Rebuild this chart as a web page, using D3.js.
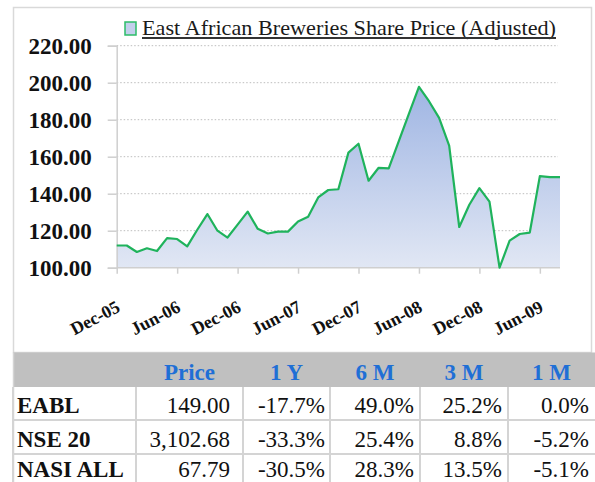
<!DOCTYPE html>
<html>
<head>
<meta charset="utf-8">
<script src="https://cdn.jsdelivr.net/npm/d3@7/dist/d3.min.js"></script>
<style>
  html, body { margin: 0; padding: 0; background: #fff; }
  svg { display: block; }
</style>
</head>
<body>
<div id="chart"></div>
<script>
// monthly closing price, Dec-05 .. Aug-09
const months = d3.timeMonth.range(new Date(2005, 11, 1), new Date(2009, 8, 1))
const prices = [
  112, 112, 108.5, 110.5, 109, 116, 115.5, 111.5, 120.5, 129, 120, 116.3,
  123.3, 130.3, 121, 118.5, 119.5, 119.5, 125, 127.6, 138, 142, 142.4, 162.2,
  167, 147, 154, 153.7, 168.4, 183.1, 197.8, 190, 181, 166, 122, 134,
  143, 135.7, 100, 114.6, 118.2, 119, 149.5, 149, 149
]
const yTicks = [100, 120, 140, 160, 180, 200, 220]
const xTickLabels = ['Dec-05', 'Jun-06', 'Dec-06', 'Jun-07', 'Dec-07', 'Jun-08', 'Dec-08', 'Jun-09']
const seriesName = 'East African Breweries Share Price (Adjusted)'

// summary table
const tableHeaders = ['Price', '1 Y', '6 M', '3 M', '1 M']
const tableRows = ['EABL', 'NSE 20', 'NASI ALL']
const lastPrice = [149.00, 3102.68, 67.79]
const chg1Y = [-17.7, -33.3, -30.5]
const chg6M = [49.0, 25.4, 28.3]
const chg3M = [25.2, 8.8, 13.5]
const chg1M = [0.0, -5.2, -5.1]

const W = 595, H = 482
const serif = '"Liberation Serif", "Times New Roman", serif'

const svg = d3.select('#chart').append('svg')
  .attr('width', W)
  .attr('height', H)

// chart frame
svg.append('rect')
  .attr('x', 13.5).attr('y', 7.5)
  .attr('width', 578).attr('height', 345)
  .attr('fill', '#fff')
  .attr('stroke', '#d9d9d9')
  .attr('stroke-width', 1.5)

const plot = { left: 116.7, right: 560, top: 45.7, bottom: 267.7 }

const x = d3.scalePoint()
  .domain(months)
  .range([plot.left, plot.right])

const y = d3.scaleLinear()
  .domain([100, 220])
  .range([plot.bottom, plot.top])

// gridlines
svg.append('g')
  .selectAll('line')
  .data(yTicks.filter(d => d > 100))
  .join('line')
  .attr('x1', plot.left)
  .attr('x2', plot.right - 2)
  .attr('y1', d => y(d))
  .attr('y2', d => y(d))
  .attr('stroke', '#bdbdbd')
  .attr('stroke-width', 1)
  .attr('stroke-dasharray', '1.5,2')

// area fill
const defs = svg.append('defs')
const grad = defs.append('linearGradient')
  .attr('id', 'areaFill')
  .attr('x1', 0).attr('y1', 0).attr('x2', 0).attr('y2', 1)
grad.append('stop').attr('offset', '0%').attr('stop-color', '#9fb5e3')
grad.append('stop').attr('offset', '100%').attr('stop-color', '#e1e7f4')

const area = d3.area()
  .x((d, i) => x(months[i]))
  .y0(y(100))
  .y1(d => y(d))

svg.append('path')
  .datum(prices)
  .attr('d', area)
  .attr('fill', 'url(#areaFill)')

// axes
const yAxis = svg.append('g')
  .attr('transform', `translate(${plot.left},0)`)
  .call(d3.axisLeft(y).tickValues(yTicks).tickFormat(d3.format('.2f')).tickSize(9).tickPadding(16))
yAxis.selectAll('path, line').attr('stroke', '#cfcfcf').attr('stroke-width', 1.5)
yAxis.selectAll('text')
  .attr('font-family', serif)
  .attr('font-size', 23)
  .attr('font-weight', 'bold')
  .attr('fill', '#111')

const xAxis = svg.append('g')
  .attr('transform', `translate(0,${plot.bottom})`)
  .call(d3.axisBottom(x)
    .tickValues(xTickLabels.map((d, i) => months[i * 6]))
    .tickFormat((d, i) => xTickLabels[i])
    .tickSize(6)
    .tickSizeOuter(0))
xAxis.select('.domain').attr('d', `M${plot.left},0H${plot.right}`)
xAxis.selectAll('path, line').attr('stroke', '#cfcfcf').attr('stroke-width', 1.5)
xAxis.selectAll('text')
  .attr('font-family', serif)
  .attr('font-size', 18)
  .attr('font-weight', 'bold')
  .attr('fill', '#111')
  .attr('text-anchor', 'end')
  .attr('y', 0)
  .attr('dy', 0)
  .attr('transform', 'translate(4,43) rotate(-28)')

// price line
const line = d3.line()
  .x((d, i) => x(months[i]))
  .y(d => y(d))

svg.append('path')
  .datum(prices)
  .attr('d', line)
  .attr('fill', 'none')
  .attr('stroke', '#1fb35c')
  .attr('stroke-width', 2.2)
  .attr('stroke-linejoin', 'round')

// legend
const legend = svg.append('g')
legend.append('rect')
  .attr('x', 125).attr('y', 22)
  .attr('width', 11).attr('height', 13)
  .attr('fill', '#c3cfec')
  .attr('stroke', '#2dbd68')
  .attr('stroke-width', 1.5)
legend.append('text')
  .attr('x', 142).attr('y', 35)
  .attr('font-family', serif)
  .attr('font-size', 21)
  .attr('fill', '#1a1a1a')
  .attr('textLength', 414)
  .attr('lengthAdjust', 'spacingAndGlyphs')
  .text(seriesName)
legend.append('line')
  .attr('x1', 142).attr('x2', 142 + 414)
  .attr('y1', 38).attr('y2', 38)
  .attr('stroke', '#333')
  .attr('stroke-width', 2)

// table
const colEdges = [13, 136, 243, 330, 420, 508, 595]
const rowEdges = [387, 420, 454, 488]
const headTop = 352.5
const fs = 23

svg.append('rect')
  .attr('x', 13).attr('y', headTop)
  .attr('width', W - 13).attr('height', rowEdges[0] - headTop)
  .attr('fill', '#c0c0c0')

svg.append('g')
  .selectAll('text')
  .data(tableHeaders)
  .join('text')
  .attr('x', (d, i) => (colEdges[i + 1] + colEdges[i + 2]) / 2)
  .attr('y', rowEdges[0] - 7)
  .attr('text-anchor', 'middle')
  .attr('font-family', serif)
  .attr('font-size', fs)
  .attr('font-weight', 'bold')
  .attr('fill', '#1f6fd6')
  .text(d => d)

const gridColor = '#d4d4d4'
const tableGrid = svg.append('g')
tableGrid.selectAll('line.h')
  .data(rowEdges.slice(1, 3))
  .join('line')
  .attr('x1', 13).attr('x2', W)
  .attr('y1', d => d).attr('y2', d => d)
  .attr('stroke', gridColor).attr('stroke-width', 2)
tableGrid.selectAll('line.v')
  .data(colEdges.slice(0, 6))
  .join('line')
  .attr('x1', d => d).attr('x2', d => d)
  .attr('y1', rowEdges[0]).attr('y2', H)
  .attr('stroke', gridColor).attr('stroke-width', 2)
// left frame continues along table
svg.append('line')
  .attr('x1', 13.5).attr('x2', 13.5)
  .attr('y1', headTop).attr('y2', H)
  .attr('stroke', gridColor).attr('stroke-width', 1.5)

const pct = v => v.toFixed(1) + '%'
const cells = tableRows.map((r, i) => [
  d3.format(',.2f')(lastPrice[i]),
  pct(chg1Y[i]), pct(chg6M[i]), pct(chg3M[i]), pct(chg1M[i])
])
const pads = [13, 5, 6, 6, 6]

tableRows.forEach((r, i) => {
  // last row sits at the bottom edge; keep it just inside the page
  const base = Math.min(rowEdges[i + 1] - 7.5, H - 5)
  svg.append('text')
    .attr('x', 17)
    .attr('y', base)
    .attr('font-family', serif)
    .attr('font-size', fs)
    .attr('font-weight', 'bold')
    .attr('fill', '#111')
    .text(r)
  svg.append('g')
    .selectAll('text')
    .data(cells[i])
    .join('text')
    .attr('x', (d, j) => colEdges[j + 2] - pads[j])
    .attr('y', base)
    .attr('text-anchor', 'end')
    .attr('font-family', serif)
    .attr('font-size', fs)
    .attr('fill', '#111')
    .text(d => d)
})
</script>
</body>
</html>
